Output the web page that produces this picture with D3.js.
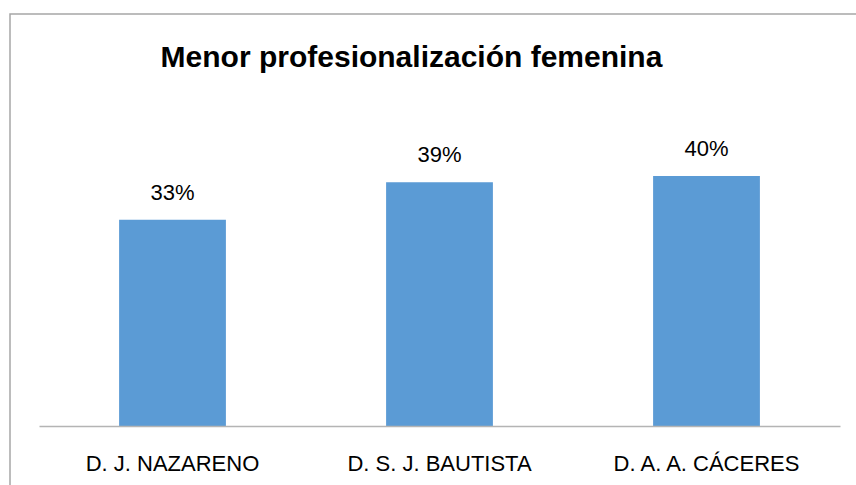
<!DOCTYPE html>
<html>
<head>
<meta charset="utf-8">
<script src="https://cdn.jsdelivr.net/npm/d3@7"></script>
<style>
  body { margin: 0; background: #fff; }
  svg text { font-family: "Liberation Sans", Arial, sans-serif; fill: #000; }
</style>
</head>
<body>
<div id="chart"></div>
<script>
var categories = ["D. J. NAZARENO", "D. S. J. BAUTISTA", "D. A. A. CÁCERES"];
var values = [0.33, 0.39, 0.40];
var titleText = "Menor profesionalización femenina";

var width = 856, height = 485;
var margin = { left: 39, right: 16, top: 113.5, bottom: 59 };
var barColor = '#5b9bd5';

var svg = d3.select('#chart').append('svg').attr('width', width).attr('height', height);

// chart frame
svg.append('rect').attr('x', 10).attr('y', 14).attr('width', 860).attr('height', 490)
    .style('fill', 'none').style('stroke', '#a6a6a6').style('stroke-width', 1.5);

var x = d3.scaleBand().domain(categories).range([margin.left, width - margin.right])
    .paddingInner(0.6).paddingOuter(0.3);
var y = d3.scaleLinear().domain([0, 0.5]).range([height - margin.bottom, margin.top]);

var data = categories.map(function (c, i) { return { cat: c, val: values[i] }; });

svg.selectAll('.bar').data(data).enter().append('rect')
    .attr('class', 'bar')
    .attr('x', function (d) { return x(d.cat); })
    .attr('y', function (d) { return y(d.val); })
    .attr('width', x.bandwidth())
    .attr('height', function (d) { return y(0) - y(d.val); })
    .style('fill', barColor);

svg.selectAll('.val').data(data).enter().append('text')
    .attr('class', 'val')
    .attr('x', function (d) { return x(d.cat) + x.bandwidth() / 2; })
    .attr('y', function (d) { return y(d.val) - 20; })
    .attr('text-anchor', 'middle')
    .style('font-size', '22px')
    .text(function (d) { return d3.format('.0%')(d.val); });

var axis = svg.append('g').attr('transform', 'translate(0,' + y(0) + ')')
    .call(d3.axisBottom(x).tickSize(0).tickSizeOuter(0));
axis.select('.domain').style('stroke', '#b4b4b4').style('stroke-width', 1.5);
axis.selectAll('text').attr('y', 45).attr('dy', 0)
    .style('font-size', '22px').style('font-family', '"Liberation Sans", Arial, sans-serif').style('fill', '#000');

svg.append('text').attr('x', 411.5).attr('y', 67).attr('text-anchor', 'middle')
    .style('font-size', '30px').style('font-weight', 'bold').text(titleText);
</script>
</body>
</html>
